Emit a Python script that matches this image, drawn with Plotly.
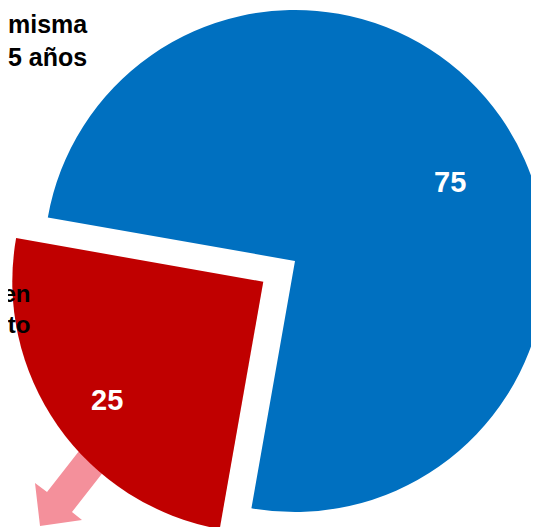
import plotly.graph_objects as go

# data
categories = ['misma<br>5 años', 'Disminuye en<br>el crecimiento']
values = [75, 25]
colors = ['#0070C0', '#C00000']
ARROW_COLOR = '#F4909B'

W, H = 539, 527
OFF = 8                      # the page body adds an 8px margin, so shift everything back
R = 251                      # pie radius in px
BLUE_C = (295, 261)          # centre of the blue pie (screen px)
RED_C = (263.3, 281.7)       # centre of the pulled-out red slice (screen px)
FONT = 'Liberation Sans, Arial, sans-serif'


def px(x, y):
    # screen pixel -> paper coords
    return (x - OFF) / W, 1 - (y - OFF) / H


def domain(c):
    x0, y1 = px(c[0] - R, c[1] - R)
    x1, y0 = px(c[0] + R, c[1] + R)
    return dict(x=[max(0, x0), min(1, x1)], y=[max(0, y0), min(1, y1)])


fig = go.Figure()

# blue slice, red one left transparent here
fig.add_trace(go.Pie(
    labels=categories, values=values, sort=False,
    direction='clockwise', rotation=-80,
    marker=dict(colors=[colors[0], 'rgba(0,0,0,0)'], line=dict(width=0)),
    textinfo='none', hoverinfo='label+value',
    domain=domain(BLUE_C), showlegend=False,
))

# red slice, exploded out (drawn as its own pie so it can be shifted)
fig.add_trace(go.Pie(
    labels=categories, values=values, sort=False,
    direction='clockwise', rotation=-80,
    marker=dict(colors=['rgba(0,0,0,0)', colors[1]], line=dict(width=0)),
    textinfo='none', hoverinfo='label+value',
    domain=domain(RED_C), showlegend=False,
))

# pink block arrow, tail hidden under the red slice
pts = [(90, 437), (115, 457), (72, 512), (82, 520), (40, 526), (35, 483), (47, 492)]
path = 'M ' + ' L '.join('%.4f,%.4f' % px(x, y) for x, y in pts) + ' Z'
fig.add_shape(type='path', path=path, xref='paper', yref='paper',
              fillcolor=ARROW_COLOR, line=dict(width=0), layer='below')

# value labels
for v, (x, y) in zip(values, [(450, 182), (107, 400)]):
    ax, ay = px(x, y)
    fig.add_annotation(x=ax, y=ay, xref='paper', yref='paper',
                       xanchor='center', yanchor='middle',
                       text=f'<b>{v}</b>', showarrow=False,
                       font=dict(family=FONT, size=29, color='white'))

# category labels (partly cut off by the edge like the original)
ax, ay = px(6, 8)
fig.add_annotation(x=ax, y=ay, xref='paper', yref='paper',
                   xanchor='left', yanchor='top', align='left',
                   text=f'<b>{categories[0]}</b>', showarrow=False,
                   font=dict(family=FONT, size=25, color='black'))
ax, ay = px(32, 278)
fig.add_annotation(x=ax, y=ay, xref='paper', yref='paper',
                   xanchor='right', yanchor='top', align='right',
                   text=f'<b>{categories[1]}</b>', showarrow=False,
                   font=dict(family=FONT, size=24, color='black'))

fig.update_layout(
    width=W, height=H,
    margin=dict(l=0, r=0, t=0, b=0),
    paper_bgcolor='white', plot_bgcolor='white',
)

fig.write_html('out.html')
